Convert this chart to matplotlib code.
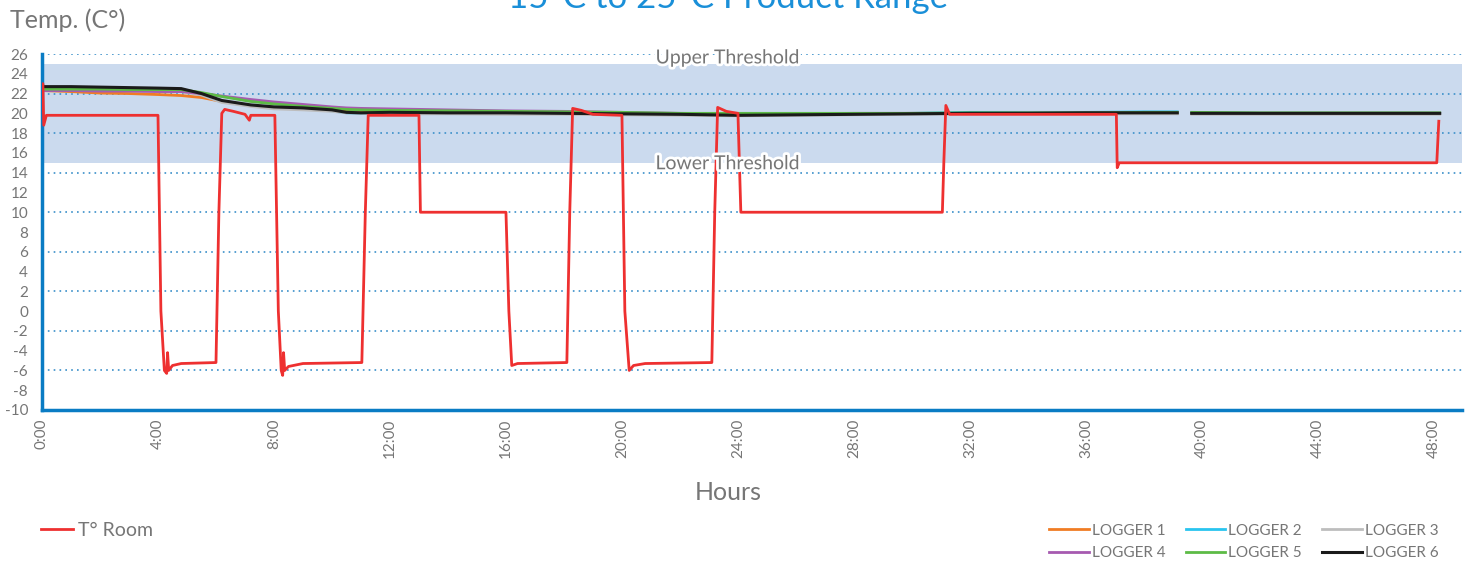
import numpy as np
import matplotlib.pyplot as plt
import matplotlib.patheffects as pe

# hours
t_room = [0, 0.03, 0.06, 0.15, 2, 4.0, 4.1, 4.22, 4.3, 4.33, 4.37, 4.5, 4.8, 6.0, 6.1, 6.2, 6.3, 6.6, 7.0,
          7.15, 7.2, 7.3, 8.03, 8.15, 8.25, 8.3, 8.33, 8.37, 8.5, 9.0, 11.03, 11.15, 11.25, 13.0, 13.05,
          16.0, 16.1, 16.2, 16.4, 18.1, 18.2, 18.3, 18.6, 19.0, 20.0, 20.1, 20.25, 20.4, 20.8, 23.1, 23.2,
          23.3, 23.6, 24.0, 24.05, 24.1, 31.05, 31.1, 31.17, 31.3, 37.05, 37.08, 37.15, 48.1, 48.17]
v_room = [22.5, 23.0, 18.8, 19.8, 19.8, 19.8, 0, -6.0, -6.3, -4.2, -6.0, -5.5, -5.3, -5.2, 10, 20.0,
          20.4, 20.2, 19.9, 19.3, 19.8, 19.8, 19.8, 0, -6.0, -6.5, -4.2, -6.0, -5.6, -5.3, -5.2, 10, 19.8,
          19.8, 10.0, 10.0, 0, -5.5, -5.3, -5.2, 10, 20.5, 20.3, 19.9, 19.8, 0, -6.0, -5.5, -5.3, -5.2, 10,
          20.6, 20.2, 20.0, 15, 10.0, 10.0, 15, 20.8, 19.9, 19.9, 14.5, 15.0, 15.0, 19.2]

t_log = [0, 1, 2, 3, 4, 4.8, 5.5, 6.2, 7.2, 8, 9, 10, 10.5, 11, 12, 14, 16, 18, 20, 22, 24, 26, 28, 30,
         32, 34, 36, 38, 39.15, 39.4, 39.65, 42, 45, 48.2]
nan = np.nan
logger1 = [22.3, 22.2, 22.05, 22.0, 21.9, 21.8, 21.6, 21.2, 20.8, 20.6, 20.45, 20.3, 20.2, 20.15, 20.1,
           20.05, 20.0, 20.0, 19.95, 19.9, 19.85, 19.9, 19.95, 20.0, 20.0, 20.05, 20.05, 20.05, 20.05, nan,
           20.0, 20.0, 20.0, 20.0]
logger2 = [22.5, 22.5, 22.45, 22.4, 22.35, 22.3, 21.9, 21.2, 20.8, 20.55, 20.45, 20.25, 20.05, 20.0, 20.0,
           20.0, 20.0, 20.0, 19.95, 19.9, 19.85, 19.9, 19.95, 20.0, 20.1, 20.1, 20.1, 20.15, 20.15, nan,
           20.05, 20.0, 20.0, 20.0]
logger3 = [22.4, 22.4, 22.35, 22.3, 22.3, 22.2, 21.85, 21.1, 20.7, 20.45, 20.35, 20.2, 20.05, 20.0, 19.95,
           19.95, 19.9, 19.9, 19.85, 19.8, 19.75, 19.8, 19.85, 19.9, 19.95, 19.95, 19.95, 19.95, 19.95, nan,
           19.9, 19.9, 19.9, 19.9]
logger4 = [22.3, 22.3, 22.25, 22.25, 22.2, 22.2, 22.0, 21.75, 21.4, 21.15, 20.9, 20.65, 20.55, 20.5, 20.45,
           20.35, 20.25, 20.2, 20.1, 20.0, 19.95, 19.95, 20.0, 20.0, 20.0, 20.05, 20.05, 20.1, 20.1, nan,
           20.05, 20.0, 20.0, 20.0]
logger5 = [22.45, 22.45, 22.45, 22.4, 22.4, 22.4, 22.1, 21.7, 21.2, 20.95, 20.7, 20.5, 20.4, 20.35, 20.3,
           20.25, 20.2, 20.15, 20.1, 20.0, 20.0, 20.0, 20.0, 20.0, 20.05, 20.05, 20.05, 20.1, 20.1, nan,
           20.1, 20.05, 20.05, 20.05]
logger6 = [22.7, 22.7, 22.65, 22.6, 22.55, 22.5, 22.0, 21.3, 20.85, 20.65, 20.55, 20.35, 20.1, 20.05, 20.1,
           20.05, 20.05, 20.0, 19.95, 19.9, 19.8, 19.85, 19.9, 19.95, 20.0, 20.0, 20.05, 20.05, 20.05, nan,
           20.0, 20.0, 20.0, 20.0]

logger_names = ['LOGGER 1', 'LOGGER 2', 'LOGGER 3', 'LOGGER 4', 'LOGGER 5', 'LOGGER 6']
logger_colors = ['#f07c24', '#29c4ef', '#bdbdbd', '#a65ab0', '#5dbb46', '#1a1a1a']
loggers = [logger1, logger2, logger3, logger4, logger5, logger6]

x_ticks = list(range(0, 49, 4))
x_labels = [f'{h}:00' for h in x_ticks]
y_ticks = list(range(-10, 27, 2))

plt.rcParams['font.family'] = ['Lato', 'DejaVu Sans']
grey = '#767676'
blue = '#0a7cc4'

fig = plt.figure(figsize=(14.68, 5.64), dpi=100)
ax = fig.add_axes([42 / 1468, 1 - 410 / 564, 1420 / 1468, 356 / 564])

ax.axhspan(15, 25, color='#cbdaee', zorder=0, lw=0)
for g in range(-6, 27, 4):
    ax.axhline(g, color='#3a8fc9', ls=(0, (1, 2.5)), lw=1.2, zorder=1)

lw_draw = [2, 2, 2, 2, 2, 2.2]
for name, col, vals, lw in zip(logger_names, logger_colors, loggers, lw_draw):
    ax.plot(t_log, vals, color=col, lw=lw, label=name, zorder=3)
room, = ax.plot(t_room, v_room, color='#ee3030', lw=2, label='T° Room', zorder=4)

ax.set_xlim(0, 48.97)
ax.set_ylim(-10, 26)
ax.set_xticks(x_ticks)
ax.set_xticklabels(x_labels, rotation=90, color=grey, fontsize=11)
ax.set_yticks(y_ticks)
ax.set_yticklabels([str(v) for v in y_ticks], color=grey, fontsize=11)
ax.tick_params(length=0, pad=6)
ax.tick_params(axis='y', pad=10)
for s in ['top', 'right']:
    ax.spines[s].set_visible(False)
for s in ['left', 'bottom']:
    ax.spines[s].set_color(blue)
    ax.spines[s].set_linewidth(2.5)

halo = [pe.withStroke(linewidth=4, foreground='white')]
ax.text(23.65, 25.6, 'Upper Threshold', ha='center', va='center', fontsize=14, color=grey,
        path_effects=halo, zorder=5)
ax.text(23.65, 14.9, 'Lower Threshold', ha='center', va='center', fontsize=14, color=grey,
        path_effects=halo, zorder=5)

fig.text(728 / 1468, 1 - 8 / 564, '15°C to 25°C Product Range', ha='center', va='baseline',
         fontsize=25, color='#1a8fd8')
fig.text(10 / 1468, 1 - 20 / 564, 'Temp. (C°)', ha='left', va='center', fontsize=18, color=grey)
fig.text(728 / 1468, 1 - 492 / 564, 'Hours', ha='center', va='center', fontsize=18, color=grey)

fig.legend(handles=[room], loc='center left', bbox_to_anchor=(24 / 1468, 1 - 530 / 564),
           frameon=False, fontsize=14, labelcolor=grey, handlelength=1.6, handletextpad=0.3)
handles, labels = ax.get_legend_handles_labels()
order = [0, 3, 1, 4, 2, 5]
fig.legend([handles[i] for i in order], [labels[i] for i in order], loc='center right', ncol=3,
           bbox_to_anchor=(1452 / 1468, 1 - 542 / 564),
           frameon=False, fontsize=11, labelcolor=grey, handlelength=2.6, handletextpad=0.2,
           columnspacing=1.3, labelspacing=0.55)

fig.savefig('out.png', dpi=100)
